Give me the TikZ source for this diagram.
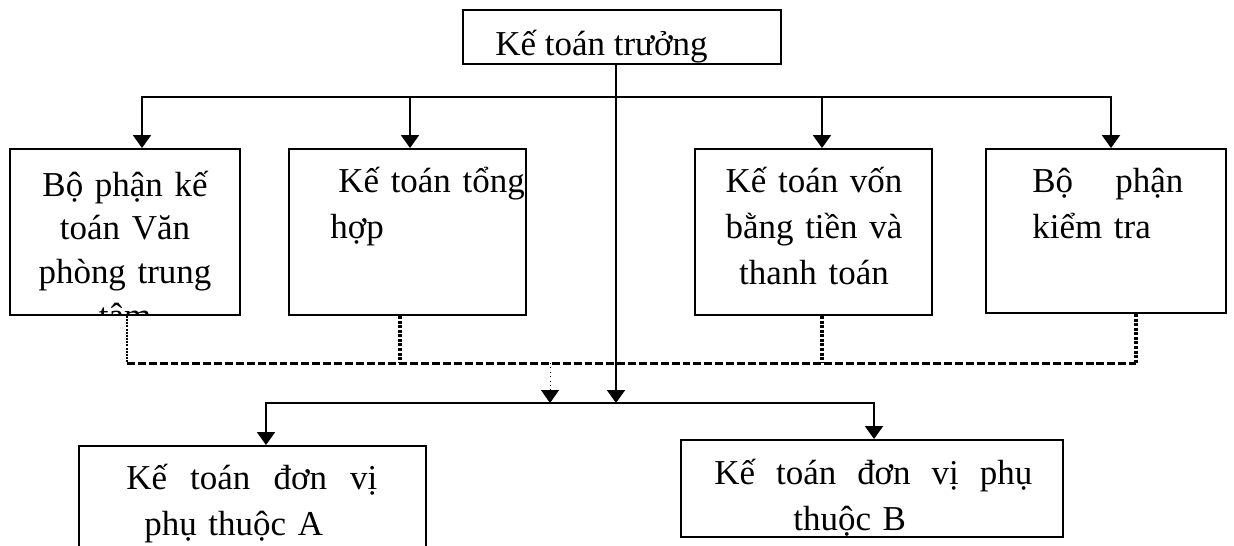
\documentclass[tikz,border=0pt]{standalone}
\usepackage{fontspec}
\setmainfont{Liberation Serif}
\usetikzlibrary{arrows.meta,fit}

\tikzset{
  box/.style={draw, line width=1.1pt, inner sep=0pt},
  txt/.style={inner sep=0pt, font=\fontsize{19.9}{26.2}\selectfont},
  link/.style={line width=1.1pt, line cap=rect},
  arr/.style={line width=1.1pt, -{Triangle[width=0.36cm,length=0.26cm]}},
  dots/.style={line width=1.7pt, dash pattern=on 4.5pt off 1.7pt},
  dotsv/.style={line width=2.2pt, dash pattern=on 1.7pt off 0.9pt},
  dotsthin/.style={line width=1.1pt, dash pattern=on 1.1pt off 0.7pt},
}

\begin{document}
\begin{tikzpicture}[x=0.02cm, y=-0.02cm]
	\useasboundingbox (0,0) rectangle (1234,545);
	% head of accounting
	\node[box, fit={(463,10) (781,64)}] (ktt) {};
	\node[txt, anchor=base west] (ktt-t) at (495,55) {Kế toán trưởng};
	% first row of sections
	\node[box, fit={(10,149) (240,315)}] (vp) {};
	\node[box, fit={(289,149) (526,315)}] (th) {};
	\node[box, fit={(695,149) (932,315)}] (vbt) {};
	\node[box, fit={(986,149) (1226,313)}] (kt) {};
	\begin{scope}
		\clip (vp.north west) rectangle (vp.south east);
		\node[txt, font=\fontsize{19.9}{25}\selectfont, text width=4.6cm, align=center, anchor=base] (vp-t) at (125,196)
		{Bộ phận kế\\toán Văn\\phòng trung\\tâm};
	\end{scope}
	\node[txt, text width=4.4cm, align=left, anchor=base west] (th-t) at (330,192)
	{\hspace*{0.16cm}Kế toán tổng\\hợp};
	\node[txt, text width=4.6cm, align=center, anchor=base] (vbt-t) at (814,192)
	{Kế toán vốn\\bằng tiền và\\thanh toán};
	\node[txt, text width=4cm, align=left, anchor=base west] (kt-t) at (1032,192)
	{\makebox[3.02cm][s]{Bộ\hfill phận}\\kiểm tra};
	% dependent units
	\node[box, fit={(79,446) (426,580)}] (pa) {};
	\node[box, fit={(681,440) (1063,537)}] (pb) {};
	\node[txt, text width=6cm, align=left, anchor=base west] (pa-t) at (126,489)
	{\makebox[5.02cm][s]{Kế\hfill toán\hfill đơn\hfill vị}\\\hspace*{0.36cm}phụ thuộc A};
	\node[txt, text width=7cm, align=left, anchor=base west] (pb-t) at (714,484)
	{\makebox[6.36cm][s]{Kế\hfill toán\hfill đơn\hfill vị\hfill phụ}\\\hspace*{1.58cm}thuộc B};

	% top bus
	\coordinate (d1) at (142,97);
	\coordinate (d2) at (410,97);
	\coordinate (d3) at (822,97);
	\coordinate (d4) at (1111,97);
	\draw[link] (d1) -- (d4);
	\foreach \c/\n in {d1/vp,d2/th,d3/vbt,d4/kt}
		\draw[arr] (\c) -- (\c |- \n.north);

	% lower bus and trunk
	\coordinate (trunk) at (616,64);
	\coordinate (l1) at (266,403);
	\coordinate (l2) at (874,403);
	\draw[link] (l1) -- (l2);
	\draw[arr] (trunk) -- (trunk |- l1);
	\draw[arr] (l1) -- (l1 |- pa.north);
	\draw[arr] (l2) -- (l2 |- pb.north);

	% dotted feedback lines
	\coordinate (e1) at (127,363);
	\coordinate (e2) at (400,363);
	\coordinate (e3) at (822,363);
	\coordinate (e4) at (1136,363);
	\coordinate (e5) at (550,363);
	\draw[dots] (e1) -- (e4);
	\draw[dotsthin] (e1 |- vp.south) -- (e1);
	\draw[dotsv] (e2 |- th.south) -- (e2);
	\draw[dotsv] (e3 |- vbt.south) -- (e3);
	\draw[dotsv] (e4 |- kt.south) -- (e4);
	\draw[line width=0.5pt, dotted, -{Triangle[width=0.36cm,length=0.26cm]}] (e5) -- (e5 |- l1);
\end{tikzpicture}
\end{document}
